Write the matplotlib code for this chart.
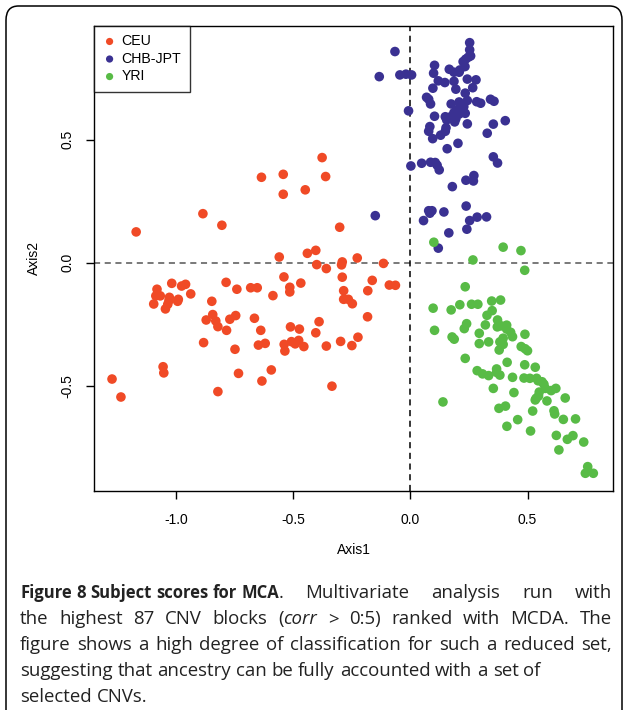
import matplotlib
matplotlib.use("Agg")
import matplotlib.pyplot as plt
from matplotlib.patches import FancyBboxPatch

# subject scores
ceu_x = [-0.636, -0.543, -0.543, -0.886, -0.805, -1.171, -0.560, -0.540, -0.377, -0.362,
         -0.449, -0.302, -0.440, -0.404, -0.227, -0.400, -0.359, -0.294, -0.291, -0.115,
         -0.291, -0.163, -1.082, -1.019, -0.977, -0.960, -0.938, -1.087, -1.068, -1.029,
         -1.031, -1.036, -1.046, -0.994, -0.991, -1.096, -0.787, -0.741, -0.682, -0.654,
         -0.587, -0.515, -0.515, -0.848, -0.844, -0.872, -0.831, -0.822, -0.771, -0.746,
         -0.785, -0.666, -0.639, -0.883, -0.749, -0.649, -0.620, -0.539, -0.536, -0.512,
         -1.056, -1.053, -1.274, -1.236, -0.822, -0.734, -0.594, -0.634, -0.090, -0.064,
         -0.468, -0.285, -0.182, -0.285, -0.265, -0.248, -0.183, -0.474, -0.390, -0.404,
         -0.508, -0.492, -0.477, -0.455, -0.359, -0.298, -0.250, -0.224, -0.335]
ceu_y = [0.347, 0.359, 0.278, 0.199, 0.152, 0.125, 0.023, -0.058, 0.427, 0.350,
         0.296, 0.144, 0.038, 0.050, 0.019, -0.008, -0.024, -0.009, 0.003, -0.003,
         -0.059, -0.072, -0.108, -0.084, -0.095, -0.088, -0.127, -0.135, -0.135, -0.141,
         -0.154, -0.169, -0.188, -0.157, -0.149, -0.168, -0.080, -0.108, -0.102, -0.102,
         -0.134, -0.100, -0.119, -0.157, -0.211, -0.233, -0.237, -0.260, -0.230, -0.215,
         -0.275, -0.226, -0.275, -0.325, -0.352, -0.335, -0.328, -0.332, -0.359, -0.261,
         -0.423, -0.448, -0.473, -0.546, -0.524, -0.450, -0.436, -0.481, -0.091, -0.092,
         -0.083, -0.114, -0.114, -0.149, -0.149, -0.167, -0.220, -0.270, -0.240, -0.285,
         -0.321, -0.330, -0.316, -0.341, -0.339, -0.320, -0.337, -0.303, -0.502]

chb_x = [-0.066, -0.133, -0.045, -0.019, 0.005, -0.008, 0.253, 0.253, 0.257, 0.247,
         0.236, 0.225, 0.233, 0.103, 0.099, 0.166, 0.186, 0.208, 0.211, 0.119,
         0.147, 0.186, 0.243, 0.280, 0.096, 0.194, 0.266, 0.234, 0.069, 0.078,
         0.086, 0.174, 0.208, 0.243, 0.283, 0.300, 0.342, 0.357, 0.197, 0.214,
         0.228, 0.186, 0.208, 0.234, 0.172, 0.194, 0.149, 0.155, 0.103, 0.189,
         0.243, 0.405, 0.354, 0.083, 0.078, 0.152, 0.149, 0.129, 0.328, 0.095,
         0.203, 0.157, 0.002, 0.048, 0.086, 0.106, 0.114, 0.123, 0.354, 0.372,
         0.271, 0.269, 0.237, 0.179, -0.150, 0.078, 0.092, 0.083, 0.143, 0.238,
         0.056, 0.253, 0.285, 0.325, 0.241, 0.164, 0.119]
chb_y = [0.858, 0.756, 0.763, 0.766, 0.763, 0.617, 0.894, 0.865, 0.840, 0.835,
         0.827, 0.817, 0.797, 0.802, 0.770, 0.786, 0.774, 0.774, 0.783, 0.739,
         0.732, 0.737, 0.746, 0.743, 0.709, 0.705, 0.711, 0.689, 0.672, 0.664,
         0.645, 0.645, 0.653, 0.659, 0.654, 0.648, 0.664, 0.656, 0.621, 0.632,
         0.634, 0.610, 0.604, 0.607, 0.593, 0.585, 0.593, 0.580, 0.595, 0.572,
         0.564, 0.577, 0.563, 0.553, 0.534, 0.548, 0.534, 0.518, 0.526, 0.504,
         0.485, 0.463, 0.393, 0.404, 0.408, 0.407, 0.396, 0.377, 0.430, 0.405,
         0.354, 0.332, 0.335, 0.309, 0.191, 0.211, 0.211, 0.201, 0.206, 0.230,
         0.171, 0.171, 0.185, 0.186, 0.136, 0.121, 0.059]

yri_x = [0.100, 0.396, 0.472, 0.267, 0.488, 0.234, 0.097, 0.174, 0.211, 0.261,
         0.288, 0.347, 0.385, 0.349, 0.327, 0.372, 0.240, 0.230, 0.320, 0.371,
         0.388, 0.411, 0.411, 0.103, 0.294, 0.178, 0.187, 0.428, 0.436, 0.489,
         0.396, 0.382, 0.396, 0.334, 0.294, 0.379, 0.473, 0.490, 0.500, 0.234,
         0.413, 0.488, 0.533, 0.285, 0.308, 0.334, 0.368, 0.368, 0.382, 0.436,
         0.485, 0.510, 0.539, 0.545, 0.562, 0.570, 0.576, 0.601, 0.621, 0.550,
         0.547, 0.533, 0.537, 0.583, 0.354, 0.442, 0.661, 0.139, 0.378, 0.406,
         0.522, 0.613, 0.616, 0.653, 0.705, 0.458, 0.412, 0.513, 0.623, 0.670,
         0.694, 0.740, 0.634, 0.757, 0.747, 0.781]
yri_y = [0.083, 0.063, 0.049, 0.011, -0.031, -0.098, -0.185, -0.192, -0.171, -0.169,
         -0.169, -0.156, -0.152, -0.195, -0.214, -0.233, -0.248, -0.268, -0.253, -0.261,
         -0.257, -0.254, -0.270, -0.275, -0.287, -0.302, -0.311, -0.283, -0.301, -0.291,
         -0.307, -0.322, -0.332, -0.322, -0.329, -0.355, -0.341, -0.350, -0.358, -0.389,
         -0.405, -0.415, -0.425, -0.439, -0.452, -0.459, -0.432, -0.446, -0.457, -0.466,
         -0.469, -0.470, -0.470, -0.480, -0.484, -0.494, -0.511, -0.520, -0.511, -0.526,
         -0.542, -0.558, -0.551, -0.562, -0.511, -0.528, -0.550, -0.566, -0.592, -0.583,
         -0.603, -0.602, -0.615, -0.637, -0.635, -0.638, -0.665, -0.684, -0.702, -0.718,
         -0.703, -0.729, -0.761, -0.829, -0.856, -0.856]

groups = ["CEU", "CHB-JPT", "YRI"]
colors = ["#f04a26", "#3a3192", "#58bb46"]
xticks = [-1.0, -0.5, 0.0, 0.5]
yticks = [-0.5, 0.0, 0.5]

plt.rcParams["font.family"] = ["Liberation Sans", "DejaVu Sans"]

fig = plt.figure(figsize=(6.24, 7.1), dpi=100)
W, H = 624, 710

# rounded frame round the whole figure
frame = FancyBboxPatch((6 / W, -0.05), 616 / W, 1 - 6 / H + 0.05,
                       boxstyle="round,pad=0,rounding_size=0.02",
                       transform=fig.transFigure, fill=False,
                       edgecolor="black", linewidth=1.1)
fig.patches.append(frame)

ax = fig.add_axes([94 / W, 1 - 491 / H, 519 / W, (491 - 25.7) / H])

for xs, ys, c, g in zip([ceu_x, chb_x, yri_x], [ceu_y, chb_y, yri_y], colors, groups):
    ax.scatter(xs, ys, s=48, color=c, edgecolors="none", label=g, zorder=3)

ax.axhline(0, color="#555555", linestyle=(0, (4, 3)), linewidth=1.1, zorder=1)
ax.axvline(0, color="black", linestyle=(0, (4, 3)), linewidth=1.1, zorder=1)

ax.set_xlim(-1.351, 0.865)
ax.set_ylim(-0.928, 0.963)
ax.set_xticks(xticks)
ax.set_xticklabels([f"{t:.1f}" for t in xticks])
ax.set_yticks(yticks)
ax.set_yticklabels([f"{t:.1f}" for t in yticks], rotation=90, va="center")
ax.tick_params(direction="out", length=6, width=1, labelsize=10, pad=10)
ax.tick_params(axis="y", pad=8)
for sp in ax.spines.values():
    sp.set_linewidth(1)
ax.set_xlabel("Axis1", fontsize=10, labelpad=11)
ax.set_ylabel("Axis2", fontsize=10, labelpad=14)

leg = ax.legend(loc="upper left", borderaxespad=0, fancybox=False,
                edgecolor="black", fontsize=10.2, handletextpad=0.35,
                handlelength=1.0, labelspacing=0.25, borderpad=0.6,
                scatterpoints=1, markerscale=0.75)
leg.get_frame().set_linewidth(1)

# caption: segments of (text, weight, style, size, stretchable gaps)
caption = [
    [("Figure 8 Subject scores for MCA", "bold", "normal", 12.0, False),
     (". Multivariate analysis run with", "normal", "normal", 13.4, True)],
    [("the highest 87 CNV blocks (", "normal", "normal", 13.4, True),
     ("corr", "normal", "italic", 13.4, True),
     (" > 0:5) ranked with MCDA. The", "normal", "normal", 13.4, True)],
    [("figure shows a high degree of classification for such a reduced set,",
      "normal", "normal", 13.4, True)],
    [("suggesting that ancestry can be fully accounted with a set of",
      "normal", "normal", 13.4, True)],
    [("selected CNVs.", "normal", "normal", 13.4, True)],
]
line_y = [593, 619, 645, 671, 697]
justify = [True, True, True, False, False]
cap_family = ["Open Sans", "DejaVu Sans"]
x_left, x_right = 20, 612

renderer = fig.canvas.get_renderer()


def width_px(txt, wt, st, size):
    t = fig.text(0, 0, txt, fontsize=size, fontweight=wt, fontstyle=st,
                 family=cap_family)
    w = t.get_window_extent(renderer=renderer).width
    t.remove()
    return w


for segs, yp, just in zip(caption, line_y, justify):
    # split into atoms, remembering whether a space precedes each atom
    atoms = []
    pending = False
    for txt, wt, st, size, stretch in segs:
        parts = txt.split(" ")
        for i, p in enumerate(parts):
            if i > 0:
                pending = True
            if p:
                gap = pending and len(atoms) > 0
                sw = width_px("a a", wt, st, size) - width_px("aa", wt, st, size)
                atoms.append(dict(text=p, wt=wt, st=st, size=size, gap=gap,
                                  stretch=stretch, sw=sw,
                                  w=width_px(p, wt, st, size)))
                pending = False
    natural = sum(a["w"] + (a["sw"] if a["gap"] else 0) for a in atoms)
    n_stretch = sum(1 for a in atoms if a["gap"] and a["stretch"])
    extra = 0
    if just and n_stretch:
        extra = ((x_right - x_left) - natural) / n_stretch
    x = x_left
    for a in atoms:
        if a["gap"]:
            x += a["sw"] + (extra if a["stretch"] else 0)
        fig.text(x / W, 1 - yp / H, a["text"], fontsize=a["size"], fontweight=a["wt"],
                 fontstyle=a["st"], family=cap_family, va="center", ha="left",
                 color="#222222")
        x += a["w"]

fig.savefig("out.png", dpi=100)
